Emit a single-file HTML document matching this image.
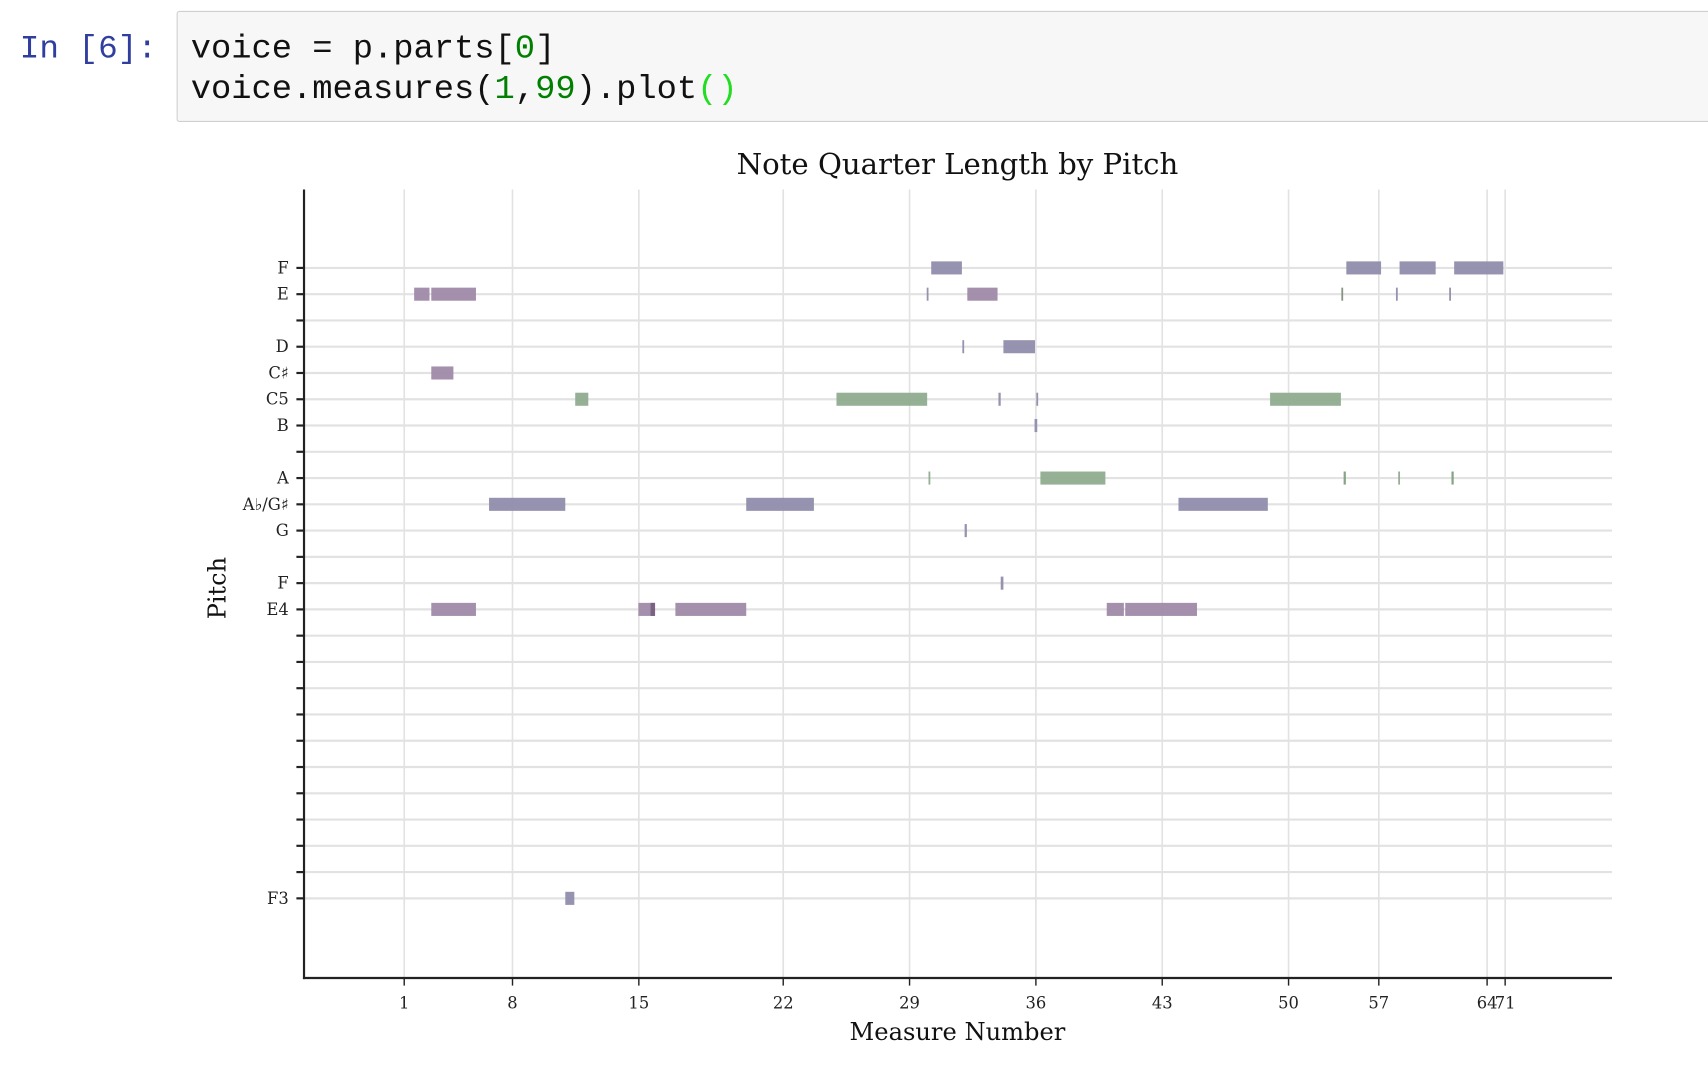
<!DOCTYPE html>
<html><head><meta charset="utf-8"><style>
html,body{margin:0;padding:0;background:#fff;width:1708px;height:1076px;overflow:hidden}
svg{display:block}
</style></head><body>
<svg id="s" width="1708" height="1076" viewBox="0 0 1568 988" xmlns="http://www.w3.org/2000/svg">
<text x="18" y="53" font-family="Liberation Mono, monospace" font-size="30" fill="#303f9f">In [6]:</text>
<rect x="162.5" y="10.5" width="1420" height="101" fill="#f7f7f7" stroke="#cfcfcf" rx="2"/>
<text x="175" y="53" font-family="Liberation Mono, monospace" font-size="31" fill="#111">voice = p.parts[<tspan fill="#008000">0</tspan>]</text>
<text x="175" y="90" font-family="Liberation Mono, monospace" font-size="31" fill="#111">voice.measures(<tspan fill="#008000">1</tspan>,<tspan fill="#008000">99</tspan>).plot<tspan fill="#22dd22">()</tspan></text>
<g id="chart"></g>
</svg>
<script>
const tickMeasures=[1,8,15,22,29,36,43,50,57,64,71];
const tickOffsets=[0,24,52,84,112,140,168,196,216,240,244];
const pitchLabels={77:"F",76:"E",74:"D",73:"C\u266F",72:"C5",71:"B",69:"A",68:"A\u266D/G\u266F",67:"G",65:"F",64:"E4",53:"F3"};
const notePitch=[77,77,77,77,76,76,76,76,76,76,76,74,74,73,72,72,72,72,72,71,69,69,69,69,69,68,68,68,67,65,64,64,64,64,64,64,53];
const noteStart=[116.8,208.8,220.6,232.7,2.2,6.0,115.8,124.8,207.7,219.8,231.6,132.8,123.7,6.0,37.9,95.8,131.7,140.1,191.9,139.7,116.2,141.0,208.2,220.3,232.1,18.8,75.8,171.6,124.2,132.2,6.0,51.9,54.6,60.1,155.7,159.8,35.7];
const noteLen=[6.8,7.7,8.0,10.9,3.4,9.9,0.4,6.7,0.4,0.4,0.4,7.0,0.4,4.9,2.9,20.1,0.5,0.4,15.7,0.6,0.4,14.4,0.5,0.4,0.5,16.9,15.0,19.8,0.5,0.6,9.9,3.6,1.0,15.7,3.8,15.9,2.0];
const noteColor=["#8f8dab","#8f8dab","#8f8dab","#8f8dab","#9f8aa8","#9f8aa8","#8f8dab","#9f8aa8","#7f8f7f","#8f8dab","#8f8dab","#8f8dab","#8f8dab","#9f8aa8","#8fac8f","#8fac8f","#8f8dab","#8f8dab","#8fac8f","#8f8dab","#8fac8f","#8fac8f","#7fa07f","#8fac8f","#7fa07f","#8f8dab","#8f8dab","#8f8dab","#8f8dab","#8f8dab","#9f8aa8","#9f8aa8","#7a5f80","#9f8aa8","#9f8aa8","#9f8aa8","#8f8dab"];
const NS="http://www.w3.org/2000/svg";
const g=document.getElementById('chart');
const L=279,R=1480,T=174,B=898;
const SERIF='DejaVu Serif, Liberation Serif, serif';
const X=o=>371+o*4.143;
const Y=p=>246+(77-p)*24.12;
function mk(tag,a){const e=document.createElementNS(NS,tag);for(const k in a)e.setAttribute(k,a[k]);g.appendChild(e);return e;}
tickOffsets.forEach((o,i)=>{
  const l=mk('line',{x1:X(o),x2:X(o),y1:T,y2:B,stroke:'#e2e2e2','stroke-width':1.5});
  
  
  const t=mk('line',{x1:X(o),x2:X(o),y1:B,y2:B+7,stroke:'#222','stroke-width':1.3});
  
  
  const tx=mk('text',{x:X(o),y:B+28,'text-anchor':'middle','font-family':SERIF,'font-size':15,fill:'#222'});
  tx.textContent=tickMeasures[i];
  
  
});
for(let p=53;p<=77;p++){
  const l=mk('line',{x1:L,x2:R,y1:Y(p),y2:Y(p),stroke:'#e2e2e2','stroke-width':2});
  
  
  const t=mk('line',{x1:L-7,x2:L,y1:Y(p),y2:Y(p),stroke:'#222','stroke-width':2});
  
  
  if(pitchLabels[p]){
    const tx=mk('text',{x:L-14,y:Y(p)+5,'text-anchor':'end','font-family':SERIF,'font-size':15,fill:'#222'});
    tx.textContent=pitchLabels[p];
    
    
  }
}
notePitch.forEach((p,i)=>{
  const w=Math.max(1.5,noteLen[i]*4.143);
  const r=mk('rect',{x:X(noteStart[i]),y:Y(p)-6,width:w,height:12,fill:noteColor[i],opacity:0.95});
  
  
});
const ay=mk('line',{x1:L,x2:L,y1:T,y2:B+1,stroke:'#222','stroke-width':2});


const ax=mk('line',{x1:L-1,x2:R,y1:B,y2:B,stroke:'#222','stroke-width':2});


const ti=mk('text',{x:879,y:160,'text-anchor':'middle','font-family':SERIF,'font-size':26.8,fill:'#111'});
ti.textContent='Note Quarter Length by Pitch';


const xt=mk('text',{x:879,y:955,'text-anchor':'middle','font-family':SERIF,'font-size':22.2,fill:'#111'});
xt.textContent='Measure Number';


const yt=mk('text',{x:0,y:0,'text-anchor':'middle','font-family':SERIF,'font-size':22,fill:'#111',transform:'translate(207,540) rotate(-90)'});
yt.textContent='Pitch';


</script>
</body></html>
